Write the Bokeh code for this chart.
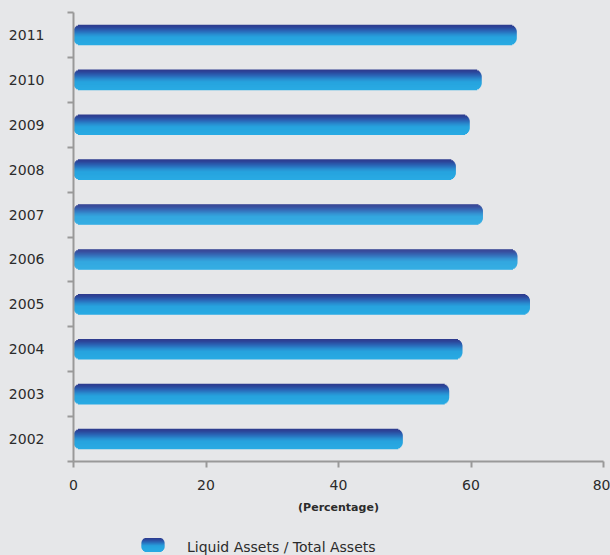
import numpy as np
from bokeh.plotting import figure
from bokeh.models import Range1d, FixedTicker, ColumnDataSource, CustomJSTickFormatter
from bokeh.layouts import column
from bokeh.core.properties import value
from bokeh.embed import file_html
from bokeh.resources import INLINE

# ---- data -------------------------------------------------------------
years = ["2002", "2003", "2004", "2005", "2006", "2007", "2008", "2009", "2010", "2011"]
liquid_ratio = [49.7, 56.7, 58.7, 68.9, 67.0, 61.8, 57.7, 59.8, 61.6, 66.9]
x_ticks = [0, 20, 40, 60, 80]
series_name = "Liquid Assets / Total Assets"
x_title = "(Percentage)"

# ---- style ------------------------------------------------------------
BG = "#e6e7e9"
AXIS_GRAY = "#999999"
TEXT = "#2b2b2b"
FONT = "DejaVu Sans"

W, H_MAIN, H_LEG = 610, 525, 30
B_LEFT, B_RIGHT, B_TOP, B_BOTTOM = 73, 7, 12, 64
X_MAX = 80
Y_MAX = len(years)

frame_w = W - B_LEFT - B_RIGHT
frame_h = H_MAIN - B_TOP - B_BOTTOM
px_x = frame_w / X_MAX          # pixels per percentage point
px_y = frame_h / Y_MAX          # pixels per category band

BAR_PX = 20.0                   # bar thickness in pixels
RADIUS_PX = 7.0                 # rounded end radius
N_STRIPS = 20

# vertical colour ramp of the tube-like bars (top -> bottom)
stops = [(0.0, "#2e3a8c"), (0.12, "#2c4599"), (0.30, "#2a66b6"),
         (0.48, "#288dd0"), (0.62, "#27a3de"), (1.0, "#28abe3")]


def hex_rgb(h):
    h = h.lstrip("#")
    return tuple(int(h[i:i + 2], 16) for i in (0, 2, 4))


def ramp(t):
    for (t0, c0), (t1, c1) in zip(stops[:-1], stops[1:]):
        if t <= t1:
            f = (t - t0) / (t1 - t0)
            a, b = hex_rgb(c0), hex_rgb(c1)
            rgb = [round(a[j] + (b[j] - a[j]) * f) for j in range(3)]
            return "#%02x%02x%02x" % tuple(rgb)
    return stops[-1][1]


def corner_inset(dy, half, r):
    """Horizontal inset (pixels) of a rounded end at vertical offset dy."""
    e = abs(dy) - (half - r)
    if e <= 0:
        return 0.0
    e = min(e, r)
    return r - np.sqrt(max(r * r - e * e, 0.0))


# ---- gradient strips for each bar --------------------------------------
ys, lefts, rights, colors, heights = [], [], [], [], []
half = BAR_PX / 2
step = BAR_PX / N_STRIPS
for i, v in enumerate(liquid_ratio):
    yc = i + 0.5
    for k in range(N_STRIPS):
        off = half - (k + 0.5) * step          # pixel offset above centre
        ins = corner_inset(off, half, RADIUS_PX) / px_x
        ys.append(yc + off / px_y)
        lefts.append(0 + ins)
        rights.append(v - ins)
        colors.append(ramp((k + 0.5) / N_STRIPS))
        heights.append((step + 0.6) / px_y)

src = ColumnDataSource(dict(y=ys, left=lefts, right=rights, color=colors, h=heights))

p = figure(width=W, height=H_MAIN,
           x_range=Range1d(0, X_MAX), y_range=Range1d(0, Y_MAX),
           output_backend="svg", toolbar_location=None,
           min_border_left=B_LEFT, min_border_right=B_RIGHT,
           min_border_top=B_TOP, min_border_bottom=B_BOTTOM,
           background_fill_color=BG, border_fill_color=BG,
           outline_line_color=None)

p.hbar(y="y", left="left", right="right", height="h", source=src,
       fill_color="color", line_color=None)

p.xgrid.visible = False
p.ygrid.visible = False

# x axis
xa = p.xaxis[0]
xa.ticker = FixedTicker(ticks=x_ticks, minor_ticks=[])
xa.axis_line_color = AXIS_GRAY
xa.axis_line_width = 2
xa.major_tick_line_color = AXIS_GRAY
xa.major_tick_line_width = 2
xa.major_tick_out = 6
xa.major_tick_in = 0
xa.minor_tick_out = 0
xa.minor_tick_in = 0
xa.major_label_text_font = FONT
xa.major_label_text_font_size = "14px"
xa.major_label_text_color = TEXT
xa.major_label_standoff = 12
xa.axis_label = x_title
xa.axis_label_text_font = FONT
xa.axis_label_text_font_size = "11px"
xa.axis_label_text_font_style = "bold"
xa.axis_label_text_color = TEXT
xa.axis_label_standoff = 8

# y axis: labels centred on bands, tick marks on band boundaries
ya = p.yaxis[0]
ya.ticker = FixedTicker(ticks=[i + 0.5 for i in range(Y_MAX)],
                        minor_ticks=list(range(Y_MAX + 1)))
ya.formatter = CustomJSTickFormatter(args=dict(labels=years),
                                     code="return labels[Math.floor(tick)];")
ya.axis_line_color = AXIS_GRAY
ya.axis_line_width = 2
ya.major_tick_out = 0
ya.major_tick_in = 0
ya.minor_tick_out = 6
ya.minor_tick_in = 0
ya.minor_tick_line_color = AXIS_GRAY
ya.minor_tick_line_width = 2
ya.major_label_text_font = FONT
ya.major_label_text_font_size = "14px"
ya.major_label_text_color = TEXT
ya.major_label_standoff = 23

# ---- legend strip below the chart -------------------------------------
# its frame lines up with the chart frame, so x is mapped 1:1 to page pixels;
# fills are left transparent so the column background shows through evenly
leg = figure(width=W, height=H_LEG,
             x_range=Range1d(B_LEFT, W - B_RIGHT), y_range=Range1d(H_LEG, 0),
             output_backend="svg", toolbar_location=None,
             x_axis_location=None, y_axis_location=None,
             min_border_left=B_LEFT, min_border_right=B_RIGHT,
             min_border_top=0, min_border_bottom=0,
             background_fill_alpha=0, border_fill_alpha=0,
             outline_line_color=None)
leg.xgrid.visible = False
leg.ygrid.visible = False

ICON_L, ICON_R, ICON_T, ICON_H, ICON_RAD, ICON_N = 141.0, 164.0, 12.7, 13.5, 5.0, 14
ic_y, ic_l, ic_r, ic_c = [], [], [], []
ihalf = ICON_H / 2
istep = ICON_H / ICON_N
for k in range(ICON_N):
    off = ihalf - (k + 0.5) * istep
    ins = corner_inset(off, ihalf, ICON_RAD)
    ic_y.append(ICON_T + (k + 0.5) * istep)
    ic_l.append(ICON_L + ins)
    ic_r.append(ICON_R - ins)
    ic_c.append(ramp((k + 0.5) / ICON_N))
leg.hbar(y=ic_y, left=ic_l, right=ic_r, height=istep + 0.6,
         fill_color=ic_c, line_color=None)

leg.text(x=[186.5], y=[21.7], text=[series_name],
         text_font=value(FONT), text_font_size="14px",
         text_baseline="middle", text_align="left", text_color=TEXT)

layout = column(p, leg, spacing=0, styles={"background-color": BG})

open("out.html", "w").write(file_html(layout, INLINE))
